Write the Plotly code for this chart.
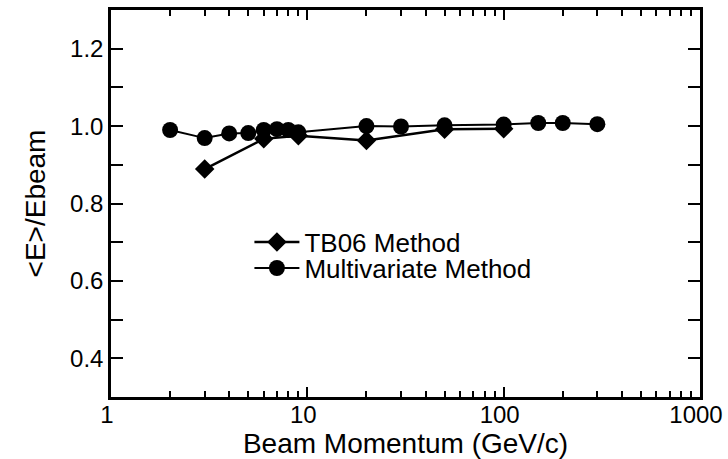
import plotly.graph_objects as go

mv_p = [2, 3, 4, 5, 6, 7, 8, 9, 20, 30, 50, 100, 150, 200, 300]
mv_r = [0.990, 0.969, 0.981, 0.982, 0.990, 0.992, 0.990, 0.984, 1.000, 0.999, 1.002, 1.004, 1.008, 1.008, 1.005]

tb_p = [3, 6, 9, 20, 50, 100]
tb_r = [0.889, 0.967, 0.975, 0.963, 0.992, 0.993]

x_ticks = [1, 10, 100, 1000]
x_ticktext = ["1", "10", "100", "1000"]
y_ticks = [0.4, 0.6, 0.8, 1.0, 1.2]
y_ticktext = ["0.4", "0.6", "0.8", "1.0", "1.2"]

fig = go.Figure()
fig.add_trace(go.Scatter(x=tb_p, y=tb_r, mode="lines+markers", name="TB06 Method",
                         line=dict(color="black", width=2.5),
                         marker=dict(symbol="diamond", size=15, color="black"),
                         legend="legend"))
fig.add_trace(go.Scatter(x=mv_p, y=mv_r, mode="lines+markers", name="Multivariate Method",
                         line=dict(color="black", width=2),
                         marker=dict(symbol="circle", size=16, color="black"),
                         legend="legend2"))

font = "Liberation Sans, Arial, Helvetica, sans-serif"
leg_common = dict(x=0.235, xanchor="left", yanchor="middle",
                  bgcolor="rgba(0,0,0,0)", font=dict(size=26), itemwidth=45)
fig.update_layout(
    width=728, height=459,
    margin=dict(l=111, r=28, t=10, b=62),
    plot_bgcolor="white", paper_bgcolor="white",
    font=dict(family=font, color="black", size=24),
    showlegend=True,
    legend=dict(y=0.40, **leg_common),
    legend2=dict(y=0.333, **leg_common),
)
fig.update_xaxes(type="log", range=[0, 3], tickvals=x_ticks, ticktext=x_ticktext,
                 ticks="inside", ticklen=10, tickwidth=2, tickcolor="black",
                 showline=True, linecolor="black", linewidth=2.5, mirror="ticks",
                 showgrid=False, zeroline=False, automargin=False,
                 ticklabelstandoff=-6, ticklabelshift=-4, ticklabeloverflow="allow",
                 minor=dict(ticks="inside", ticklen=6, tickwidth=2, tickcolor="black",
                            dtick="D1", showgrid=False),
                 tickfont=dict(size=24),
                 title=dict(text="Beam Momentum (GeV/c)", font=dict(size=28), standoff=0))
fig.update_yaxes(range=[0.3, 1.3], tickvals=y_ticks, ticktext=y_ticktext,
                 ticks="inside", ticklen=12, tickwidth=2, tickcolor="black",
                 showline=True, linecolor="black", linewidth=2.5, mirror="ticks",
                 showgrid=False, zeroline=False, automargin=False,
                 minor=dict(ticks="inside", ticklen=12, tickwidth=2, tickcolor="black",
                            dtick=0.1, showgrid=False),
                 tickfont=dict(size=24),
                 title=dict(text="&lt;E&gt;/Ebeam", font=dict(size=28), standoff=17))

fig.write_html("out.html", config={"displayModeBar": False},
               post_script="document.body.style.margin='0';document.body.style.overflow='hidden';")
